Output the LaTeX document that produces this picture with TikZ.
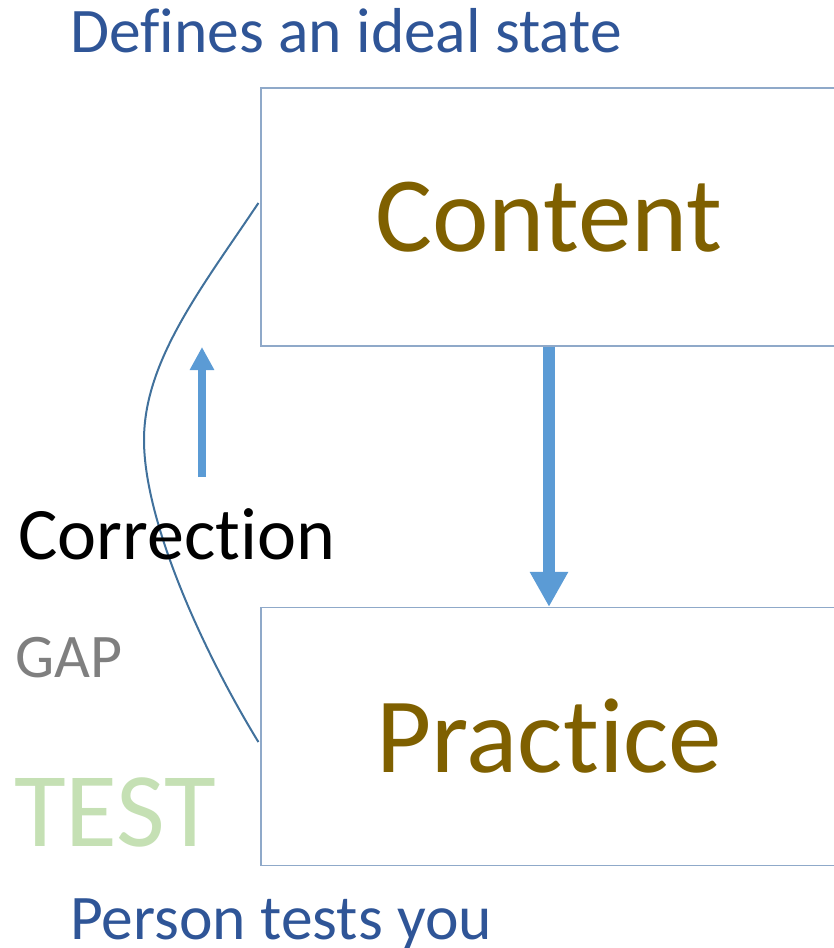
\documentclass[tikz,border=0pt]{standalone}
\usepackage{fontspec}
\setmainfont{Carlito}[Ligatures=NoCommon]
\usepackage{xcolor}
\usetikzlibrary{arrows.meta, positioning}

\definecolor{titleblue}{HTML}{2F5597}
\definecolor{boxgold}{HTML}{7F6000}
\definecolor{boxline}{HTML}{8FA9C9}
\definecolor{arrowblue}{HTML}{5B9BD5}
\definecolor{curveblue}{HTML}{41719C}
\definecolor{gapgray}{HTML}{7F7F7F}
\definecolor{testgreen}{HTML}{C5E0B4}

\begin{document}
\begin{tikzpicture}[
    x=1pt, y=-1pt,
    box/.style={rectangle, draw=boxline, line width=1.2pt, minimum width=576pt, minimum height=258pt, inner sep=0pt, text=boxgold, font=\fontsize{107}{107}\selectfont},
    caption/.style={anchor=base west, inner sep=0pt, text=titleblue, font=\fontsize{63.5}{63.5}\selectfont},
    bigarrow/.style={draw=arrowblue, line width=12pt, -{Triangle[width=36pt, length=35pt]}},
    smallarrow/.style={draw=arrowblue, line width=8pt, -{Triangle[width=23pt, length=23pt]}},
    gapcurve/.style={draw=curveblue, line width=2pt}
]
\useasboundingbox (0,0) rectangle (833,948);

% Boxes
\node[box] at (549,217) (content) {Content};
\node[box] at (549,736.5) (practice) {Practice};

% Captions
\node[caption] at (70,52) (ideal) {Defines an ideal state};
\node[caption] at (70,939) (person) {Person tests you};

% Flow down
\draw[bigarrow] (content.south) -- (practice.north);

% Correction arrow
\coordinate (corrlow) at (202,477);
\coordinate (corrtop) at (202,347);
\draw[smallarrow] (corrlow) -- (corrtop);

% Gap curve
\draw[gapcurve] ([xshift=-2pt, yshift=14pt]content.west)
    .. controls (203,286) and (144,360) .. (144,440)
    .. controls (144,520) and (201,648) .. ([xshift=-2pt, yshift=-5.5pt]practice.west);

% Side labels
\node[anchor=base west, inner sep=0pt, font=\fontsize{74}{74}\selectfont] at (18,559) (corr) {Correction};
\node[anchor=base west, inner sep=0pt, text=gapgray, font=\fontsize{62}{62}\selectfont] at (15,677) (gap) {GAP};
\node[anchor=base west, inner sep=0pt, text=testgreen, font=\fontsize{106}{106}\selectfont] at (14,846) (test) {TEST};

\end{tikzpicture}
\end{document}
